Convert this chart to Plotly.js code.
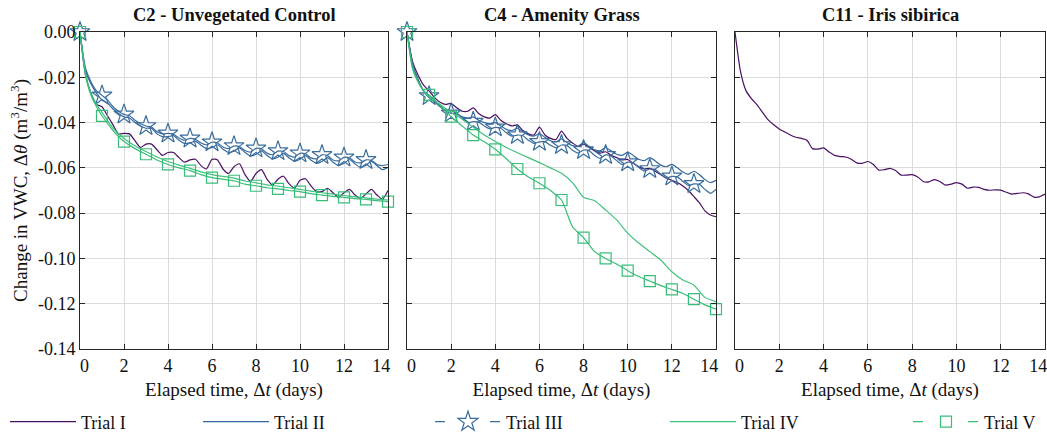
<!DOCTYPE html>
<html><head><meta charset="utf-8">
<script src="https://cdn.plot.ly/plotly-3.0.1.min.js"></script>
<style>html,body{margin:0;padding:0;background:#fff}#chart{width:1047px;height:435px}</style>
</head><body><div id="chart"></div>
<script>
// ---- time axes (days) ----
const timeFine = [0,0.25,0.5,0.75,1,1.25,1.5,1.75,2,2.25,2.5,2.75,3,3.25,3.5,3.75,4,4.25,4.5,4.75,5,5.25,5.5,5.75,6,6.25,6.5,6.75,7,7.25,7.5,7.75,8,8.25,8.5,8.75,9,9.25,9.5,9.75,10,10.25,10.5,10.75,11,11.25,11.5,11.75,12,12.25,12.5,12.75,13,13.25,13.5,13.75,14];
const timeCoarse = [0,0.25,0.5,0.75,1,1.5,2,2.5,3,3.5,4,4.5,5,5.5,6,6.5,7,7.5,8,8.5,9,9.5,10,10.5,11,11.5,12,12.5,13,13.5,14];

// ---- C2 - Unvegetated Control ----
const c2TrialI = [0,
 -0.019,-0.027,-0.032,-0.033, -0.037,-0.041,-0.045,-0.0448, -0.045,-0.048,-0.051,-0.0495,
 -0.0495,-0.052,-0.0545,-0.0532, -0.0532,-0.0555,-0.0575,-0.0565, -0.0562,-0.059,-0.0605,-0.0562,
 -0.0565,-0.0605,-0.0625,-0.0595, -0.0582,-0.063,-0.066,-0.0625, -0.0608,-0.065,-0.0676,-0.065,
 -0.0637,-0.067,-0.069,-0.0655, -0.0648,-0.068,-0.0705,-0.0705, -0.069,-0.071,-0.073,-0.071,
 -0.0695,-0.072,-0.0735,-0.0715, -0.0695,-0.072,-0.0738,-0.070];
const c2TrialII = [0,
 -0.017,-0.023,-0.027,-0.030, -0.0315,-0.034,-0.036,-0.0375, -0.038,-0.040,-0.0415,-0.0425,
 -0.0425,-0.045,-0.0462,-0.0462, -0.0458,-0.0478,-0.0492,-0.049, -0.0482,-0.050,-0.0515,-0.051,
 -0.0498,-0.0518,-0.0532,-0.0526, -0.0512,-0.0532,-0.0547,-0.054, -0.0525,-0.0545,-0.056,-0.0553,
 -0.0536,-0.0556,-0.057,-0.0562, -0.0546,-0.0566,-0.058,-0.0572, -0.0555,-0.0575,-0.059,-0.058,
 -0.0563,-0.0583,-0.0598,-0.0588, -0.0572,-0.059,-0.0608,-0.0598];
const c2TrialIII = [0,
 -0.016,-0.022,-0.026,-0.028, -0.030,-0.033,-0.035,-0.0364, -0.037,-0.039,-0.0405,-0.0415,
 -0.042,-0.044,-0.045,-0.0448, -0.0452,-0.0468,-0.0478,-0.047, -0.0474,-0.049,-0.0498,-0.0487,
 -0.049,-0.0508,-0.0515,-0.0504, -0.0506,-0.0523,-0.053,-0.0514, -0.0516,-0.0535,-0.0542,-0.0526,
 -0.0528,-0.0546,-0.0552,-0.0536, -0.0538,-0.0556,-0.056,-0.0543, -0.0546,-0.0565,-0.0569,-0.0554,
 -0.0556,-0.0574,-0.0578,-0.0565, -0.0567,-0.0585,-0.059,-0.0585];
const c2TrialIV = [0,-0.018,-0.027,-0.032,-0.0355,-0.0425,-0.047,-0.0502,-0.0528,-0.0552,-0.0572,-0.0588,-0.0602,-0.0618,-0.063,-0.0638,-0.0645,-0.0658,-0.0666,-0.0675,-0.0681,-0.0688,-0.0695,-0.0703,-0.071,-0.0716,-0.0722,-0.0728,-0.0733,-0.0738,-0.0742];
const c2TrialV = [0,-0.019,-0.028,-0.033,-0.037,-0.0435,-0.0484,-0.0515,-0.054,-0.0565,-0.0585,-0.060,-0.0612,-0.063,-0.0643,-0.065,-0.0657,-0.0672,-0.0679,-0.0688,-0.0693,-0.070,-0.0705,-0.0714,-0.072,-0.0726,-0.073,-0.0736,-0.0739,-0.0745,-0.0749];

// ---- C4 - Amenity Grass ----
const c4TrialI = [0,
 -0.013,-0.019,-0.0235,-0.026, -0.029,-0.031,-0.032,-0.0315, -0.0335,-0.035,-0.035,-0.0335,
 -0.036,-0.0375,-0.038,-0.0365, -0.039,-0.0405,-0.0415,-0.041, -0.0435,-0.045,-0.0455,-0.042,
 -0.0455,-0.047,-0.0475,-0.0438, -0.047,-0.049,-0.0505,-0.0495, -0.051,-0.0525,-0.0535,-0.0529,
 -0.0545,-0.0555,-0.0565,-0.0563, -0.058,-0.0595,-0.0605,-0.0602, -0.0615,-0.063,-0.0645,-0.0655,
 -0.0665,-0.068,-0.070,-0.0727, -0.0755,-0.079,-0.0808,-0.0816];
const c4TrialII = [0,
 -0.014,-0.021,-0.026,-0.029, -0.031,-0.033,-0.0345,-0.0345, -0.036,-0.0375,-0.038,-0.0375,
 -0.039,-0.040,-0.0405,-0.040, -0.0415,-0.043,-0.0435,-0.0425, -0.044,-0.0455,-0.046,-0.045,
 -0.0465,-0.048,-0.0485,-0.0472, -0.0488,-0.0502,-0.0505,-0.0488, -0.0505,-0.052,-0.0525,-0.051,
 -0.0525,-0.054,-0.0545,-0.053, -0.0545,-0.0562,-0.0568,-0.0555, -0.057,-0.0588,-0.0595,-0.0585,
 -0.060,-0.0618,-0.0628,-0.0615, -0.063,-0.0652,-0.0665,-0.0655];
const c4TrialIII = [0,
 -0.014,-0.021,-0.026,-0.0283, -0.030,-0.0325,-0.035,-0.0359, -0.036,-0.038,-0.040,-0.0396,
 -0.0398,-0.0415,-0.0428,-0.0421, -0.0425,-0.0445,-0.046,-0.0455, -0.0458,-0.0478,-0.0492,-0.0485,
 -0.0484,-0.050,-0.0512,-0.0499, -0.0502,-0.0522,-0.0535,-0.0521, -0.0524,-0.0545,-0.0558,-0.0543,
 -0.0548,-0.0568,-0.0585,-0.0575, -0.0578,-0.0598,-0.0614,-0.0605, -0.0608,-0.0628,-0.0645,-0.0638,
 -0.064,-0.066,-0.0678,-0.0671, -0.0673,-0.0695,-0.0712,-0.0695];
const c4TrialIV = [0,-0.016,-0.022,-0.026,-0.0285,-0.032,-0.0355,-0.0385,-0.042,-0.0455,-0.0484,-0.051,-0.0533,-0.0555,-0.0577,-0.060,-0.0624,-0.0665,-0.073,-0.0745,-0.0786,-0.083,-0.0888,-0.0932,-0.097,-0.1007,-0.1059,-0.1095,-0.1118,-0.1172,-0.1191];
const c4TrialV = [0,-0.016,-0.022,-0.026,-0.0278,-0.0325,-0.0374,-0.0415,-0.0455,-0.0485,-0.0518,-0.056,-0.0605,-0.064,-0.0668,-0.070,-0.0742,-0.086,-0.0908,-0.097,-0.100,-0.1025,-0.1054,-0.108,-0.110,-0.112,-0.1137,-0.1155,-0.118,-0.1205,-0.1224];

// ---- C11 - Iris sibirica ----
const c11TrialI = [0,
 -0.0175,-0.026,-0.0295,-0.0322, -0.0356,-0.0388,-0.041,-0.0428, -0.0442,-0.0455,-0.0465,-0.047,
 -0.0478,-0.0515,-0.0517,-0.0512, -0.053,-0.0545,-0.055,-0.0552, -0.0562,-0.0578,-0.058,-0.0572,
 -0.0585,-0.061,-0.0608,-0.0602, -0.0612,-0.0632,-0.0632,-0.063, -0.064,-0.066,-0.0662,-0.0652,
 -0.066,-0.0676,-0.0672,-0.0665, -0.0672,-0.069,-0.0685,-0.0686, -0.0695,-0.0699,-0.0697,-0.0698,
 -0.0708,-0.0716,-0.0713,-0.071, -0.0715,-0.0729,-0.0728,-0.0716];

// ---- labels & ticks ----
const panelTitles = ['C2 - Unvegetated Control', 'C4 - Amenity Grass', 'C11 - Iris sibirica'];
const trialNames = ['Trial I', 'Trial II', 'Trial III', 'Trial IV', 'Trial V'];
const starDays = [0,1,2,3,4,5,6,7,8,9,10,11,12,13];
const squareDays = [0,1,2,3,4,5,6,7,8,9,10,11,12,13,14];
const xTickVals = [0,2,4,6,8,10,12,14];
const xTickText = ['\u00a0\u00a00','2','4','6','8','10','12','14\u00a0\u00a0\u00a0'];
const yTickVals = [0,-0.02,-0.04,-0.06,-0.08,-0.10,-0.12,-0.14];
const yTickText = ['0.00','-0.02','-0.04','-0.06','-0.08','-0.10','-0.12','-0.14'];
const xTitle = 'Elapsed time, Δ<i>t</i> (days)';
const yTitle = 'Change in VWC, Δ<i>θ</i> (m<sup>3</sup>/m<sup>3</sup>)';

// ---- styling ----
const FONT = '"Liberation Serif", "Times New Roman", serif';
const COL = {I: '#4a1063', II: '#33669a', III: '#3a6e9c', IV: '#3dc27c', V: '#38bd79'};
const LW = 1.2;

function lineTrace(x, y, ax, name, color, legendId) {
  const t = {type: 'scatter', mode: 'lines', x: x, y: y, xaxis: 'x' + ax, yaxis: 'y' + ax,
    name: name, legendgroup: name, showlegend: !!legendId, cliponaxis: false,
    line: {color: color, width: LW, shape: 'spline', smoothing: 0.6}};
  if (legendId) t.legend = legendId;
  return t;
}
function markerTrace(times, values, days, ax, name, color, symbol, size, legendId) {
  const x = [], y = [];
  days.forEach(d => { const i = times.indexOf(d); x.push(d, null); y.push(values[i], null); });
  const t = {type: 'scatter', mode: 'lines+markers', x: x, y: y, xaxis: 'x' + ax, yaxis: 'y' + ax,
    name: name, legendgroup: name, showlegend: !!legendId, connectgaps: false, cliponaxis: false,
    line: {color: color, width: LW, dash: '10px,45px,10px'},
    marker: {symbol: symbol, size: size, color: color, line: {color: color, width: LW}}};
  if (legendId) t.legend = legendId;
  return t;
}

const data = [];
// C2
data.push(lineTrace(timeFine, c2TrialI, '', trialNames[0], COL.I, 'legend'));
data.push(lineTrace(timeFine, c2TrialII, '', trialNames[1], COL.II, 'legend2'));
data.push(lineTrace(timeFine, c2TrialIII, '', trialNames[2], COL.III, null));
data.push(markerTrace(timeFine, c2TrialIII, starDays, '', trialNames[2], COL.III, 'star-open', 15, 'legend3'));
data.push(lineTrace(timeCoarse, c2TrialIV, '', trialNames[3], COL.IV, 'legend4'));
data.push(lineTrace(timeCoarse, c2TrialV, '', trialNames[4], COL.V, null));
data.push(markerTrace(timeCoarse, c2TrialV, squareDays, '', trialNames[4], COL.V, 'square-open', 11, 'legend5'));
// C4
data.push(lineTrace(timeFine, c4TrialI, '2', trialNames[0], COL.I, null));
data.push(lineTrace(timeFine, c4TrialII, '2', trialNames[1], COL.II, null));
data.push(lineTrace(timeFine, c4TrialIII, '2', trialNames[2], COL.III, null));
data.push(markerTrace(timeFine, c4TrialIII, starDays, '2', trialNames[2], COL.III, 'star-open', 15, null));
data.push(lineTrace(timeCoarse, c4TrialIV, '2', trialNames[3], COL.IV, null));
data.push(lineTrace(timeCoarse, c4TrialV, '2', trialNames[4], COL.V, null));
data.push(markerTrace(timeCoarse, c4TrialV, squareDays, '2', trialNames[4], COL.V, 'square-open', 11, null));
// C11
data.push(lineTrace(timeFine, c11TrialI, '3', trialNames[0], COL.I, null));

const W = 1047, H = 435;
const xDomains = [[80/W, 388/W], [407/W, 716/W], [735/W, 1045/W]];
const yDomain = [1 - 349/H, 1 - 32/H];

function xAxis(i) {
  return {domain: xDomains[i], anchor: i === 0 ? 'y' : 'y' + (i + 1), range: [0, 14],
    tickmode: 'array', tickvals: xTickVals, ticktext: xTickText, ticklabeloverflow: 'allow',
    ticks: 'inside', ticklen: 5, tickcolor: '#262626',
    showline: true, linecolor: '#262626', linewidth: 1, mirror: 'ticks',
    showgrid: true, gridcolor: '#dcdcdc', gridwidth: 1, zeroline: false, automargin: false,
    tickfont: {family: FONT, size: 18, color: '#111'},
    title: {text: xTitle, font: {family: FONT, size: 19, color: '#111'}, standoff: 8}};
}
function yAxis(i) {
  const ax = {domain: yDomain, anchor: i === 0 ? 'x' : 'x' + (i + 1), range: [-0.14, 0],
    tickmode: 'array', tickvals: yTickVals, ticktext: yTickText, showticklabels: i === 0,
    ticks: 'inside', ticklen: 5, tickcolor: '#262626',
    showline: true, linecolor: '#262626', linewidth: 1, mirror: 'ticks',
    showgrid: true, gridcolor: '#dcdcdc', gridwidth: 1, zeroline: false, automargin: false,
    tickfont: {family: FONT, size: 18, color: '#111'}};
  if (i === 0) ax.title = {text: yTitle, font: {family: FONT, size: 19, color: '#111'}, standoff: 5};
  return ax;
}
function legendBox(px) {
  return {orientation: 'h', x: px / W, xanchor: 'left', y: 1 - 422/H, yanchor: 'middle',
    itemwidth: 66, font: {family: FONT, size: 18, color: '#111'}, bgcolor: 'rgba(0,0,0,0)', borderwidth: 0};
}

const layout = {
  width: W, height: H, margin: {l: 0, r: 0, t: 0, b: 0, autoexpand: false},
  paper_bgcolor: '#fff', plot_bgcolor: '#fff', font: {family: FONT, color: '#111'},
  xaxis: xAxis(0), xaxis2: xAxis(1), xaxis3: xAxis(2),
  yaxis: yAxis(0), yaxis2: yAxis(1), yaxis3: yAxis(2),
  showlegend: true,
  legend: legendBox(5), legend2: legendBox(198), legend3: legendBox(430),
  legend4: legendBox(665), legend5: legendBox(908),
  annotations: panelTitles.map((t, i) => ({text: '<b>' + t + '</b>', xref: 'paper', yref: 'paper',
    x: (xDomains[i][0] + xDomains[i][1]) / 2, y: 1 - 15/H, xanchor: 'center', yanchor: 'middle',
    showarrow: false, font: {family: FONT, size: 18.5, color: '#111'}}))
};

Plotly.newPlot('chart', data, layout, {displayModeBar: false, staticPlot: true});
</script>
</body></html>
